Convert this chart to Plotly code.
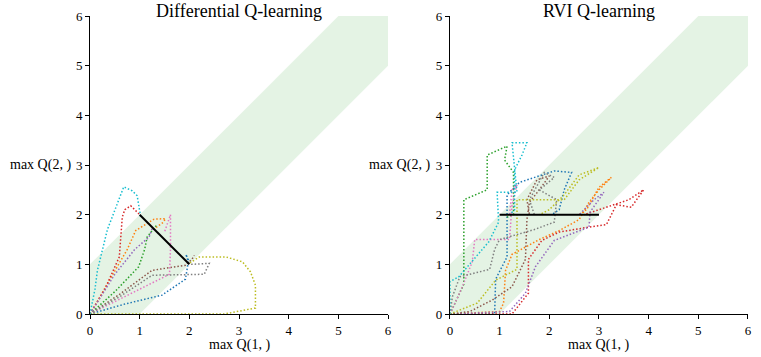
import plotly.graph_objects as go
from plotly.subplots import make_subplots

# colours of the runs (matplotlib tab10)
colors = ['#1f77b4', '#ff7f0e', '#2ca02c', '#d62728', '#9467bd',
          '#8c564b', '#e377c2', '#7f7f7f', '#bcbd22', '#17becf']

# shaded band |Q2 - Q1| <= 1
band_x = [0, 0, 5, 6, 6, 1, 0]
band_y = [0, 1, 6, 6, 5, 0, 0]

# Differential Q-learning runs
diff_x = [
    [0, 0.7, 1.45, 1.92, 1.98, 1.93, 2.0],
    [0, 0.4, 0.75, 0.92, 1.29, 1.52, 1.48, 1.3],
    [0, 0.5, 0.98, 1.1, 1.15, 1.32, 1.35],
    [0, 0.3, 0.59, 0.65, 0.7, 0.82, 0.9, 1.0],
    [0, 0.5, 0.9, 1.19, 1.25],
    [0, 0.6, 1.25, 1.92, 2.05, 2.1],
    [0, 0.9, 1.6, 1.62, 1.62, 1.5],
    [0, 0.6, 1.25, 2.3, 2.4, 2.05, 1.95],
    [0, 2.7, 3.33, 3.33, 3.23, 3.07, 2.73, 2.2, 2.0],
    [0, 0.1, 0.15, 0.35, 0.68, 0.85, 0.95, 1.02],
]
diff_y = [
    [0, 0.2, 0.38, 0.7, 1.05, 1.2, 1.05],
    [0, 0.7, 1.3, 1.68, 1.91, 1.92, 1.85, 1.72],
    [0, 0.45, 0.95, 1.3, 1.55, 1.75, 1.8],
    [0, 0.5, 1.15, 1.95, 2.1, 2.18, 2.1, 2.0],
    [0, 0.8, 1.3, 1.55, 1.72],
    [0, 0.4, 0.88, 0.98, 1.1, 1.18],
    [0, 0.45, 0.8, 1.3, 2.0, 1.65],
    [0, 0.35, 0.78, 0.8, 1.02, 1.0, 1.05],
    [0, 0.0, 0.12, 0.58, 0.85, 1.05, 1.15, 1.15, 1.02],
    [0, 0.5, 0.88, 1.7, 2.56, 2.48, 2.38, 1.95],
]

# RVI Q-learning runs
rvi_x = [
    [0, 0.9, 0.92, 1.15, 1.15, 1.4, 2.1, 2.45, 2.3, 2.2, 2.05],
    [0, 1.0, 1.08, 1.12, 1.25, 1.8, 2.2, 2.6, 2.8, 3.0, 3.25, 3.0, 2.75, 2.6],
    [0, 0.28, 0.28, 0.75, 0.75, 1.15, 1.1, 1.28, 1.28, 1.15],
    [0, 1.25, 1.58, 1.58, 1.85, 2.2, 2.8, 3.15, 3.35, 3.65, 3.9, 3.6, 2.7],
    [0, 1.2, 1.52, 1.72, 2.1, 2.8, 2.82, 3.1, 2.9, 2.6],
    [0, 0.4, 0.85, 1.25, 1.52, 1.55, 1.6, 1.8, 2.0, 1.75, 1.55, 1.6],
    [0, 0.05, 0.25, 0.45, 0.5, 1.2, 1.25, 1.35, 1.25, 1.2],
    [0, 0.05, 0.2, 0.8, 0.9, 1.0, 1.7, 2.1, 2.15, 1.8, 2.1, 1.9, 1.6, 1.7],
    [0, 0.55, 0.92, 1.35, 1.35, 2.3, 2.6, 3.0, 2.6, 2.3, 2.0, 1.8],
    [0, 0, 0.18, 0.52, 0.78, 0.98, 0.95, 1.35, 1.25, 1.55, 1.45, 1.3, 1.3, 1.2],
]
rvi_y = [
    [0, 0, 0.7, 1.15, 2.4, 2.65, 2.88, 2.85, 2.5, 2.1, 2.0],
    [0, 0.05, 0.22, 0.88, 1.2, 1.5, 1.68, 1.9, 2.25, 2.5, 2.75, 2.55, 2.1, 2.0],
    [0, 0.6, 2.3, 2.5, 3.2, 3.38, 3.1, 2.85, 2.0, 1.95],
    [0, 0, 0.42, 1.1, 1.48, 1.65, 1.75, 1.8, 2.2, 2.15, 2.5, 2.3, 2.0],
    [0, 0.05, 0.42, 0.95, 1.48, 1.75, 2.05, 2.45, 2.3, 2.0],
    [0, 0.05, 0.28, 0.55, 1.1, 1.9, 2.25, 2.5, 2.78, 2.7, 2.3, 2.0],
    [0, 0.1, 0.55, 1.05, 1.5, 1.5, 2.2, 2.6, 2.5, 2.0],
    [0, 0.35, 0.75, 0.9, 1.3, 1.5, 1.7, 1.85, 2.3, 2.5, 2.75, 2.85, 2.3, 2.0],
    [0, 0.22, 0.68, 0.9, 2.3, 2.3, 2.7, 2.95, 2.8, 2.4, 2.1, 2.0],
    [0, 0.65, 0.75, 1.15, 1.45, 1.85, 2.45, 2.45, 3.45, 3.45, 3.2, 2.9, 2.1, 2.0],
]

# solution sets
diff_sol_x = [1, 2]
diff_sol_y = [2, 1]
rvi_sol_x = [1, 3]
rvi_sol_y = [2, 2]

ticks = [0, 1, 2, 3, 4, 5, 6]
titles = ['Differential Q-learning', 'RVI Q-learning']

font = 'Liberation Serif'

fig = make_subplots(rows=1, cols=2, horizontal_spacing=0.094)

panels = [(diff_x, diff_y, diff_sol_x, diff_sol_y),
          (rvi_x, rvi_y, rvi_sol_x, rvi_sol_y)]

for col, (xs, ys, sx, sy) in enumerate(panels, start=1):
    fig.add_trace(go.Scatter(x=band_x, y=band_y, fill='toself', mode='lines',
                             line=dict(width=0),
                             fillcolor='rgba(44,160,44,0.13)',
                             hoverinfo='skip'), row=1, col=col)
    for i in range(len(xs)):
        fig.add_trace(go.Scatter(x=xs[i], y=ys[i], mode='lines',
                                 line=dict(color=colors[i], width=1.5, dash='1.5px,2px')),
                      row=1, col=col)
    fig.add_trace(go.Scatter(x=sx, y=sy, mode='lines',
                             line=dict(color='black', width=2)), row=1, col=col)

axis_style = dict(range=[0, 6], tickvals=ticks, showgrid=False, zeroline=False,
                  showline=True, linecolor='black', linewidth=1,
                  ticks='outside', ticklen=4, tickcolor='black',
                  ticklabeloverflow='allow',
                  tickfont=dict(family=font, size=13, color='black'))
fig.update_xaxes(**axis_style)
fig.update_yaxes(**axis_style)

# titles and axis labels
doms = [fig.layout.xaxis.domain, fig.layout.xaxis2.domain]
for d, t in zip(doms, titles):
    mid = (d[0] + d[1]) / 2
    fig.add_annotation(text=t, x=mid, y=1.0, xref='paper', yref='paper',
                       xanchor='center', yanchor='bottom', yshift=-7, showarrow=False,
                       font=dict(family=font, size=18, color='black'))
    fig.add_annotation(text='max Q(1, )', x=mid, y=0, xref='paper', yref='paper',
                       xanchor='center', yanchor='top', yshift=-21, showarrow=False,
                       font=dict(family=font, size=14, color='black'))
    fig.add_annotation(text='max Q(2, )', x=d[0], y=0.5, xref='paper', yref='paper',
                       xanchor='center', xshift=-50, showarrow=False,
                       font=dict(family=font, size=14, color='black'))

fig.update_layout(width=761, height=357, showlegend=False,
                  font=dict(family=font, color='black'),
                  plot_bgcolor='white', paper_bgcolor='white',
                  margin=dict(l=90, r=9, t=14, b=43))

# drop the default page margin so the figure fills the window exactly
fig.write_html("out.html", config={'displayModeBar': False},
               post_script="document.body.style.margin='0';")
